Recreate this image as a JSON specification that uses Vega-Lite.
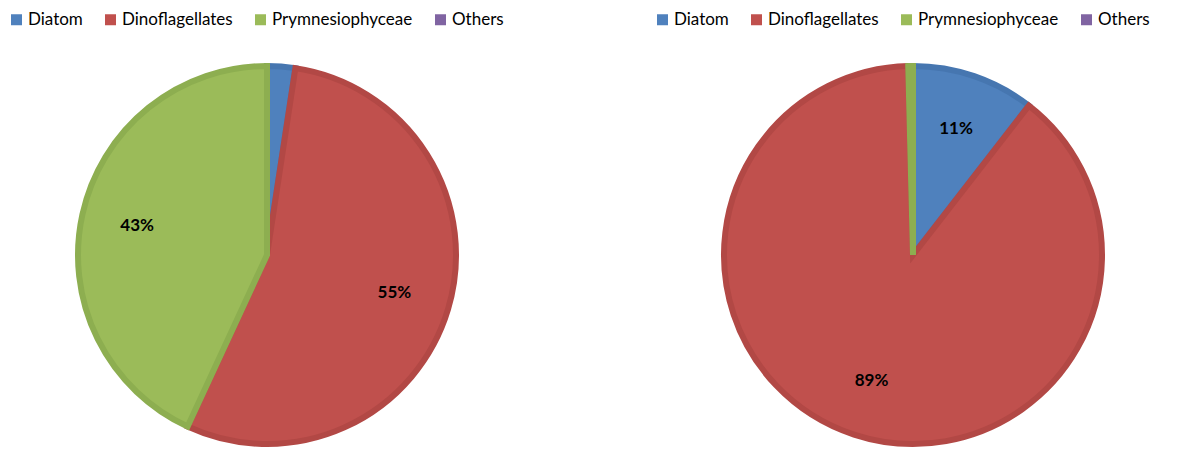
{
  "$schema": "https://vega.github.io/schema/vega-lite/v6.json",
  "padding": {"left": 2, "right": 0, "top": 5, "bottom": 0},
  "datasets": {
    "left": [
      {"group": "Diatom", "share": 0.024},
      {"group": "Dinoflagellates", "share": 0.545},
      {"group": "Prymnesiophyceae", "share": 0.431}
    ],
    "right": [
      {"group": "Diatom", "share": 0.105},
      {"group": "Dinoflagellates", "share": 0.891},
      {"group": "Prymnesiophyceae", "share": 0.004}
    ]
  },
  "spacing": 116,
  "resolve": {"legend": {"color": "independent"}, "scale": {"color": "independent", "stroke": "independent"}},
  "hconcat": [
    {
      "width": 530,
      "height": 406,
      "data": {"name": "left"},
      "encoding": {
        "theta": {"field": "share", "type": "quantitative", "stack": true},
        "order": {"field": "group", "sort": "ascending"}
      },
      "layer": [
        {
          "mark": {"type": "arc", "outerRadius": 189, "strokeWidth": 6},
          "encoding": {
            "color": {"field": "group", "type": "nominal", "sort": ["Diatom", "Dinoflagellates", "Prymnesiophyceae", "Others"],
              "scale": {"domain": ["Diatom", "Dinoflagellates", "Prymnesiophyceae", "Others"], "range": ["#4F81BD", "#C0504D", "#9BBB59", "#8064A2"]},
              "legend": {"orient": "top", "direction": "horizontal", "title": null}},
            "stroke": {"field": "group", "type": "nominal",
              "scale": {"domain": ["Diatom", "Dinoflagellates", "Prymnesiophyceae", "Others"], "range": ["#4676b0", "#b24845", "#8dae50", "#735a93"]},
              "legend": null}
          }
        },
        {
          "mark": {"type": "text", "radius": 133, "fontWeight": "bold", "fontSize": 17, "font": "Lato", "color": "black"},
          "encoding": {
            "text": {"condition": {"test": "datum.share >= 0.05", "field": "share", "format": ".0%"}, "value": ""}
          }
        }
      ]
    },
    {
      "width": 530,
      "height": 406,
      "data": {"name": "right"},
      "encoding": {
        "theta": {"field": "share", "type": "quantitative", "stack": true},
        "order": {"field": "group", "sort": "ascending"}
      },
      "layer": [
        {
          "mark": {"type": "arc", "outerRadius": 189, "strokeWidth": 6},
          "encoding": {
            "color": {"field": "group", "type": "nominal", "sort": ["Diatom", "Dinoflagellates", "Prymnesiophyceae", "Others"],
              "scale": {"domain": ["Diatom", "Dinoflagellates", "Prymnesiophyceae", "Others"], "range": ["#4F81BD", "#C0504D", "#9BBB59", "#8064A2"]},
              "legend": {"orient": "top", "direction": "horizontal", "title": null}},
            "stroke": {"field": "group", "type": "nominal",
              "scale": {"domain": ["Diatom", "Dinoflagellates", "Prymnesiophyceae", "Others"], "range": ["#4676b0", "#b24845", "#8dae50", "#735a93"]},
              "legend": null}
          }
        },
        {
          "mark": {"type": "text", "radius": 133, "fontWeight": "bold", "fontSize": 17, "font": "Lato", "color": "black"},
          "encoding": {
            "text": {"condition": {"test": "datum.share >= 0.05", "field": "share", "format": ".0%"}, "value": ""}
          }
        }
      ]
    }
  ],
  "config": {
    "view": {"stroke": null},
    "font": "Lato",
    "legend": {
      "padding": 6,
      "symbolType": "square",
      "symbolSize": 121,
      "symbolStrokeWidth": 0,
      "labelFont": "Lato",
      "labelFontSize": 17,
      "labelColor": "black",
      "labelLimit": 300,
      "columnPadding": 19,
      "labelOffset": 3
    }
  }
}
